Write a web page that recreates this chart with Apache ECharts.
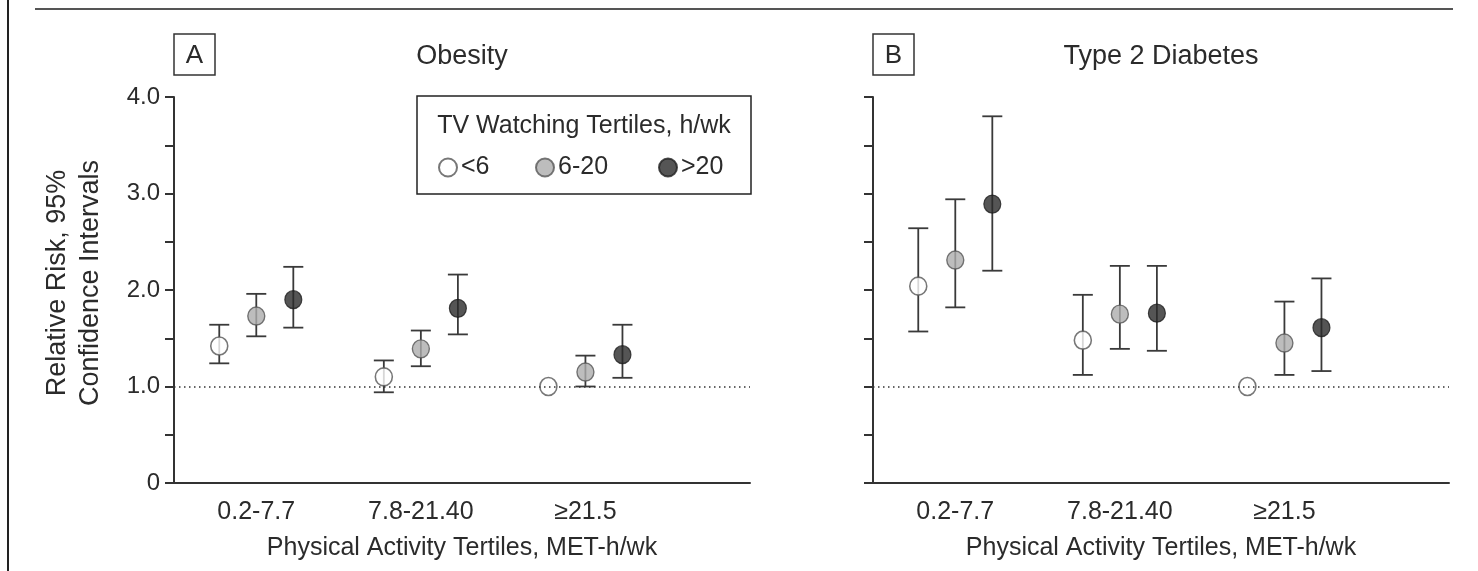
<!DOCTYPE html>
<html>
<head>
<meta charset="utf-8">
<title>Relative risk of obesity and type 2 diabetes</title>
<script src="https://cdn.jsdelivr.net/npm/echarts@6/dist/echarts.min.js"></script>
<style>
  html, body { margin: 0; padding: 0; background: #fff; }
  #chart { width: 1478px; height: 571px; }
</style>
</head>
<body>
<div id="chart"></div>
<script>
// physical activity tertiles (x axis) and TV watching tertiles (series)
const categories = ['0.2-7.7', '7.8-21.40', '≥21.5'];
const tvTertiles = ['<6', '6-20', '>20'];
// y tick labels, one per 0.5 step from 0 to 4
const yTickLabels = ['0', '', '1.0', '', '2.0', '', '3.0', '', '4.0'];

// [relative risk, lower 95% CI, upper 95% CI] per physical activity tertile
const obesityLt6 = [[1.42, 1.24, 1.64], [1.10, 0.94, 1.27], [1.00, null, null]];
const obesity6to20 = [[1.73, 1.52, 1.96], [1.39, 1.21, 1.58], [1.15, 1.00, 1.32]];
const obesityGt20 = [[1.90, 1.61, 2.24], [1.81, 1.54, 2.16], [1.33, 1.09, 1.64]];

const diabetesLt6 = [[2.04, 1.57, 2.64], [1.48, 1.12, 1.95], [1.00, null, null]];
const diabetes6to20 = [[2.31, 1.82, 2.94], [1.75, 1.39, 2.25], [1.45, 1.12, 1.88]];
const diabetesGt20 = [[2.89, 2.20, 3.80], [1.76, 1.37, 2.25], [1.61, 1.16, 2.12]];

const panels = [
  [obesityLt6, obesity6to20, obesityGt20],
  [diabetesLt6, diabetes6to20, diabetesGt20],
];

// dodge of the three TV tertiles inside one activity tertile
const dodge = [-0.225, 0, 0.225];

const FONT = '"Liberation Sans", Arial, sans-serif';
const TEXT = '#2b2b2b';
const LINE = '#333';

const markerStyles = [
  { color: '#fff', borderColor: '#555', borderWidth: 1.6 },
  { color: '#adadad', borderColor: '#555', borderWidth: 1.4 },
  { color: '#2b2b2b', borderColor: '#1e1e1e', borderWidth: 1.2 },
];

const chart = echarts.init(document.getElementById('chart'));

// error bar: vertical line with caps
function renderErrorBar(params, api) {
  const x = api.value(0);
  const lo = api.coord([x, api.value(1)]);
  const hi = api.coord([x, api.value(2)]);
  const w = 10;
  const style = { stroke: '#3a3a3a', lineWidth: 1.8 };
  return {
    type: 'group',
    children: [
      { type: 'line', shape: { x1: hi[0], y1: hi[1], x2: lo[0], y2: lo[1] }, style },
      { type: 'line', shape: { x1: hi[0] - w, y1: hi[1], x2: hi[0] + w, y2: hi[1] }, style },
      { type: 'line', shape: { x1: lo[0] - w, y1: lo[1], x2: lo[0] + w, y2: lo[1] }, style },
    ],
  };
}

const series = [];
panels.forEach((rowsByTertile, p) => {
  rowsByTertile.forEach((rows, t) => {
    const bars = rows
      .map((r, i) => [i + 1 + dodge[t], r[1], r[2]])
      .filter((d) => d[1] != null);
    const errSeries = {
      type: 'custom',
      xAxisIndex: p,
      yAxisIndex: p,
      renderItem: renderErrorBar,
      encode: { x: 0, y: [1, 2] },
      data: bars,
      z: 1,
      silent: true,
    };
    if (t === 0) {
      // reference line at RR = 1
      errSeries.markLine = {
        silent: true,
        symbol: 'none',
        label: { show: false },
        lineStyle: { color: LINE, width: 1.5, type: [1.5, 3.5] },
        data: [{ yAxis: 1 }],
      };
    }
    series.push(errSeries);
    series.push({
      name: tvTertiles[t],
      type: 'scatter',
      xAxisIndex: p,
      yAxisIndex: p,
      symbol: 'circle',
      symbolSize: [17, 18],
      itemStyle: markerStyles[t],
      data: rows.map((r, i) => [i + 1 + dodge[t], r[0]]),
      z: 3,
    });
  });
});

const grids = [
  { left: 174, top: 97, width: 576, bottom: 88 },
  { left: 873, top: 97, width: 576, bottom: 88 },
];

const xAxes = grids.map((g, i) => ({
  type: 'value',
  gridIndex: i,
  min: 0.5,
  max: 4,
  interval: 0.5,
  splitLine: { show: false },
  axisTick: { show: false },
  axisLine: { show: true, onZero: false, lineStyle: { color: LINE, width: 2 } },
  axisLabel: {
    margin: 17,
    fontFamily: FONT,
    fontSize: 25,
    color: TEXT,
    showMinLabel: false,
    showMaxLabel: false,
    formatter: (v) => (Number.isInteger(v) && v >= 1 && v <= 3 ? categories[v - 1] : ''),
  },
  name: 'Physical Activity Tertiles, MET-h/wk',
  nameLocation: 'middle',
  nameGap: 53,
  nameTextStyle: { fontFamily: FONT, fontSize: 25, color: TEXT },
}));

const yAxes = grids.map((g, i) => ({
  type: 'value',
  gridIndex: i,
  min: 0,
  max: 4,
  interval: 0.5,
  splitLine: { show: false },
  axisLine: { show: true, lineStyle: { color: LINE, width: 2 } },
  axisTick: { show: true, length: 9, lineStyle: { color: LINE, width: 2 } },
  axisLabel: {
    show: i === 0,
    margin: 14,
    fontFamily: FONT,
    fontSize: 24,
    color: TEXT,
    formatter: (v) => yTickLabels[Math.round(v * 2)],
  },
  name: i === 0 ? 'Relative Risk, 95%\nConfidence Intervals' : '',
  nameLocation: 'middle',
  nameRotate: 90,
  nameGap: 67,
  nameTextStyle: { fontFamily: FONT, fontSize: 27, color: TEXT, lineHeight: 33, padding: [0, 0, 0, 14] },
}));

// one legend per item so each sits where the reference puts it
const legendLefts = [438, 535, 658];
const legends = tvTertiles.map((name, i) => ({
  data: [{ name, icon: 'circle' }],
  left: legendLefts[i],
  top: 155,
  padding: 0,
  itemWidth: 18,
  itemHeight: 18,
  itemGap: 0,
  selectedMode: false,
  textStyle: { fontFamily: FONT, fontSize: 25, color: TEXT, padding: [0, 0, 0, -1] },
}));

function panelBox(x, letter) {
  return {
    type: 'group',
    children: [
      { type: 'rect', shape: { x, y: 34, width: 41, height: 41 }, style: { fill: '#fff', stroke: '#333', lineWidth: 1.5 } },
      { type: 'text', x: x + 20.5, y: 56, style: { text: letter, font: '26px ' + FONT, fill: TEXT, align: 'center', verticalAlign: 'middle' } },
    ],
  };
}

chart.setOption({
  animation: false,
  backgroundColor: '#fff',
  title: [
    { text: 'Obesity', left: 462, top: 43, textAlign: 'center', padding: 0,
      textStyle: { fontFamily: FONT, fontSize: 27, fontWeight: 'normal', color: TEXT } },
    { text: 'Type 2 Diabetes', left: 1161, top: 43, textAlign: 'center', padding: 0,
      textStyle: { fontFamily: FONT, fontSize: 27, fontWeight: 'normal', color: TEXT } },
  ],
  grid: grids,
  xAxis: xAxes,
  yAxis: yAxes,
  legend: legends,
  series: series,
  graphic: [
    // figure frame: left rule and top rule
    { type: 'line', shape: { x1: 8, y1: 0, x2: 8, y2: 571 }, style: { stroke: '#222', lineWidth: 2 } },
    { type: 'line', shape: { x1: 35, y1: 9, x2: 1453, y2: 9 }, style: { stroke: '#555', lineWidth: 2 } },
    panelBox(174, 'A'),
    panelBox(873, 'B'),
    // legend frame and heading
    { type: 'rect', z: -1, shape: { x: 417, y: 96, width: 334, height: 98 }, style: { fill: '#fff', stroke: '#222', lineWidth: 1.5 } },
    { type: 'text', x: 584, y: 126, style: { text: 'TV Watching Tertiles, h/wk', font: '25px ' + FONT, fill: TEXT, align: 'center', verticalAlign: 'middle' } },
  ],
});
</script>
</body>
</html>
